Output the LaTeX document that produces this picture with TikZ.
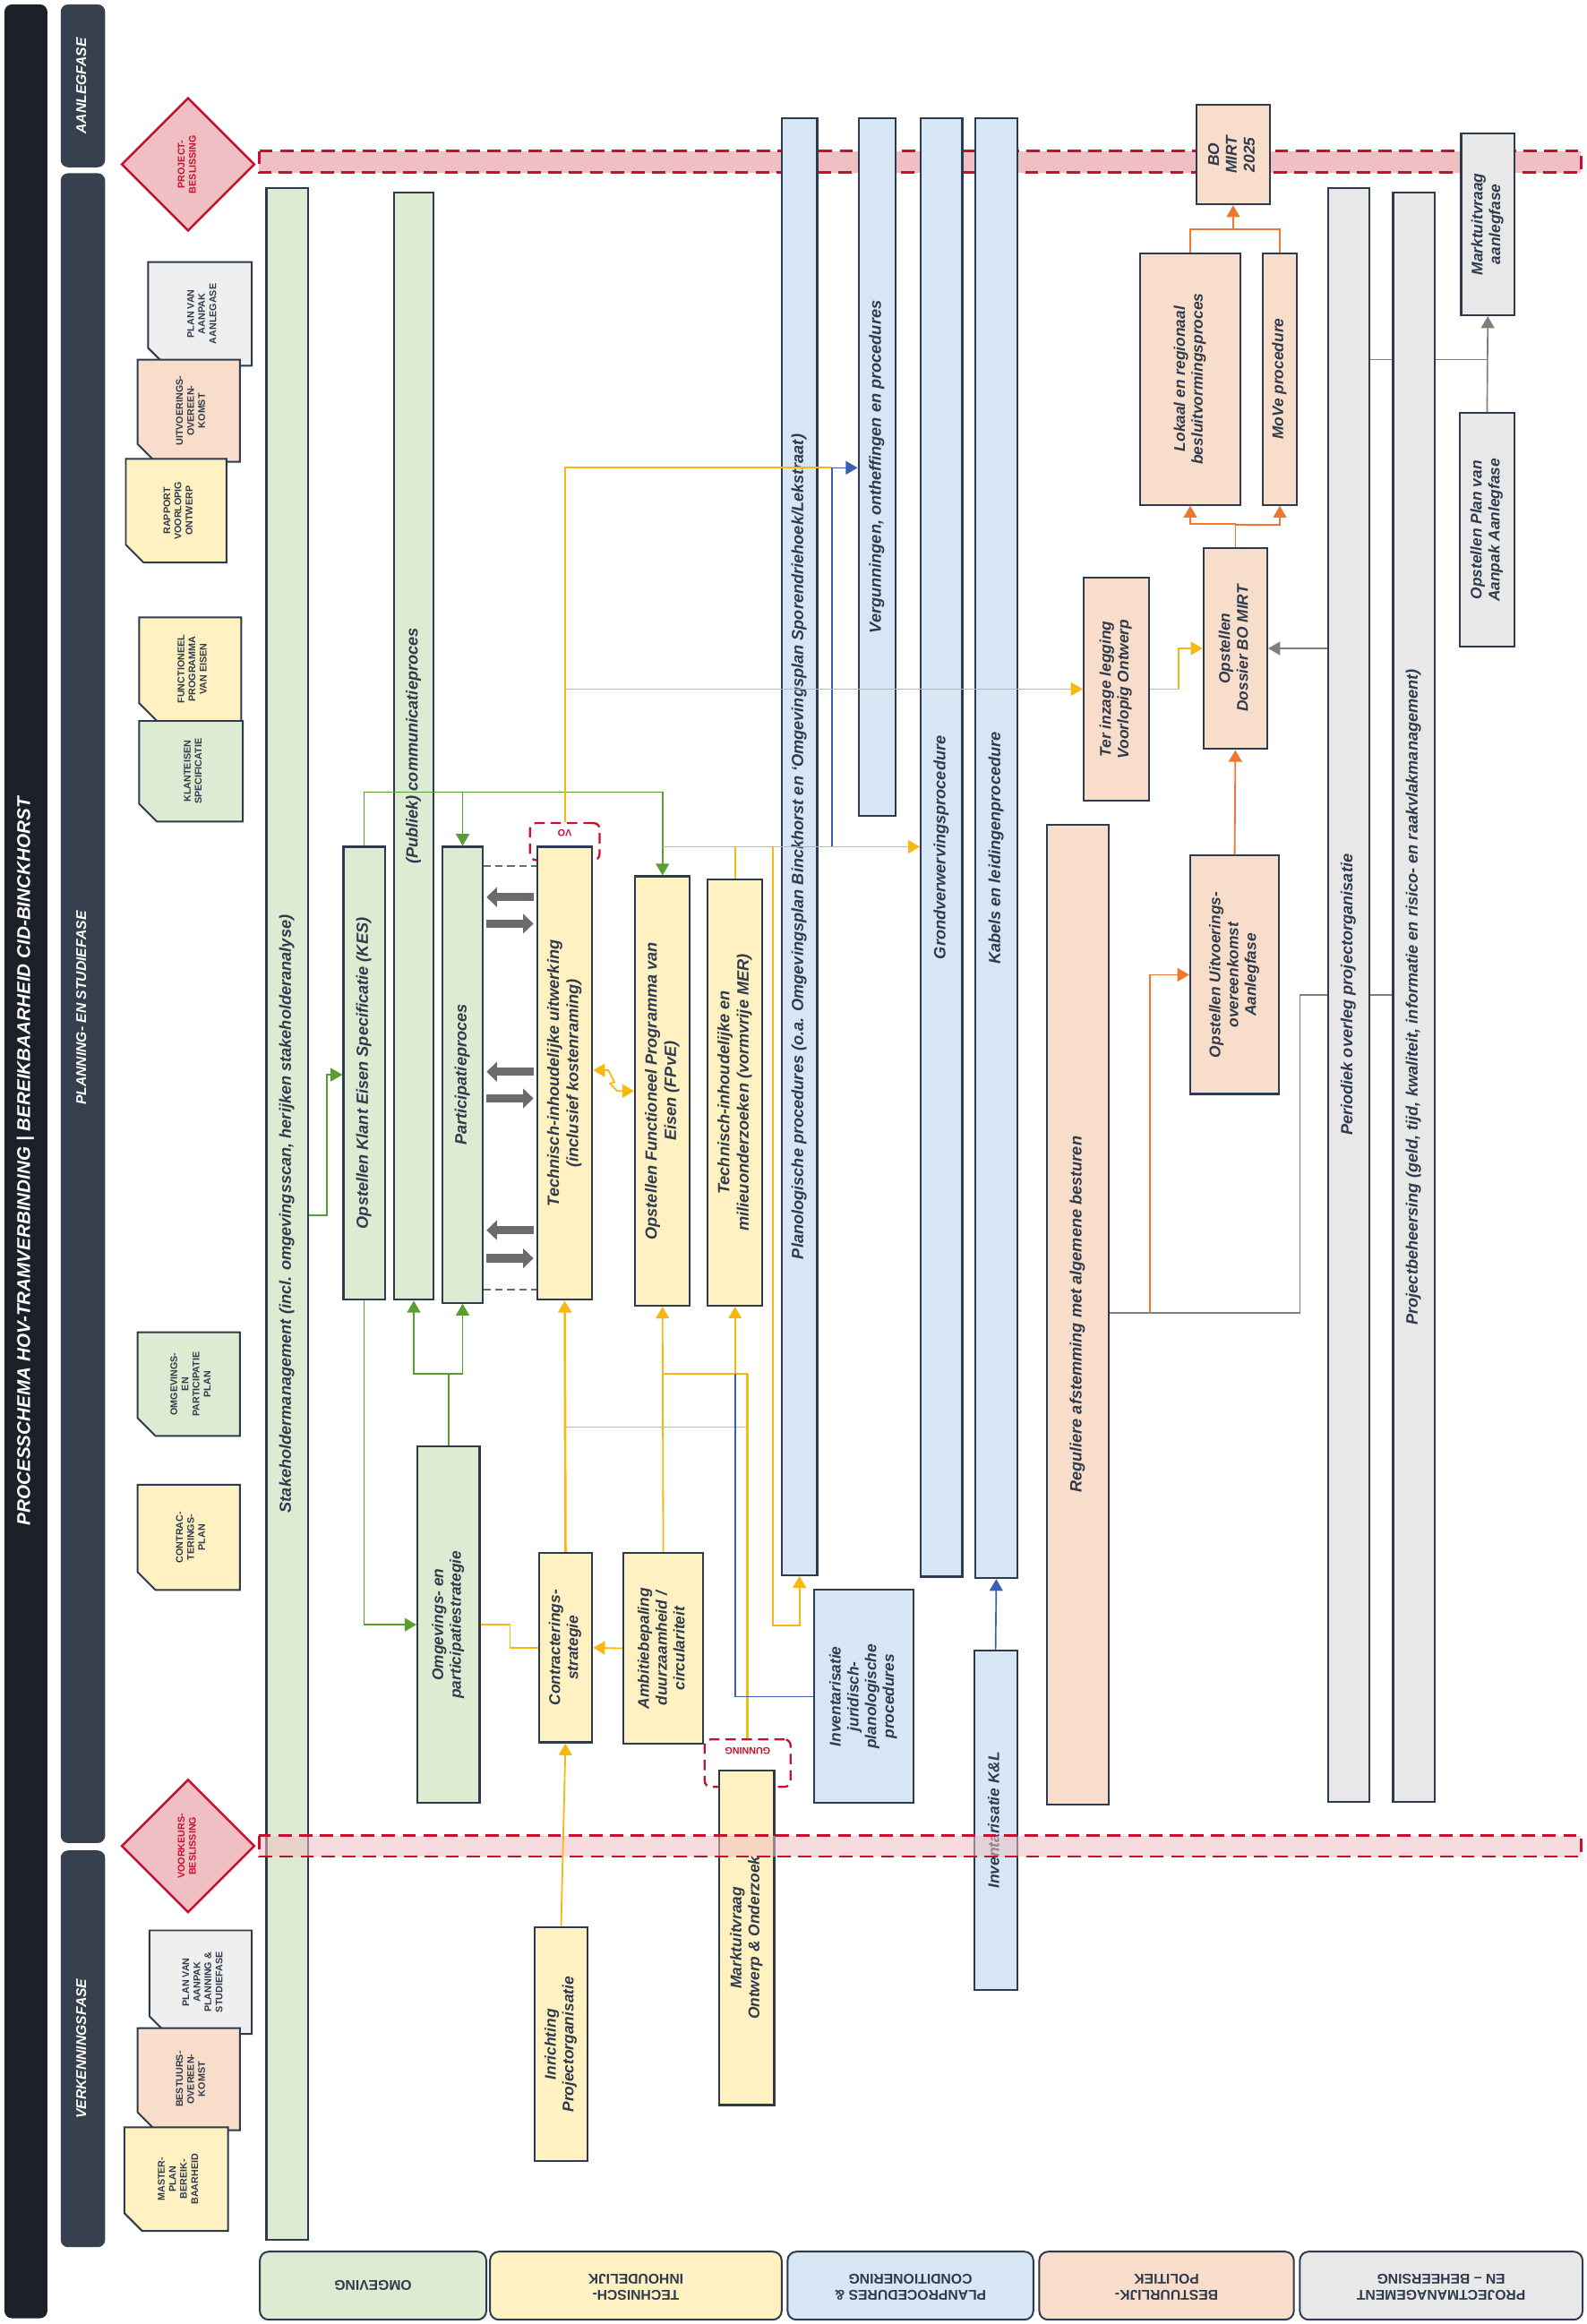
\documentclass[tikz,border=0pt]{standalone}
\usepackage{fontspec}
\setmainfont{Liberation Sans}
\setsansfont{Liberation Sans}
\usetikzlibrary{arrows.meta,shapes.geometric,calc}
\definecolor{cg}{HTML}{DCEBD1}
\definecolor{cy}{HTML}{FFF1C1}
\definecolor{cb}{HTML}{D6E6F5}
\definecolor{cp}{HTML}{F9DDCB}
\definecolor{cgr}{HTML}{E8E8E8}
\definecolor{cdg}{HTML}{EFEFEF}
\definecolor{edge}{HTML}{2E3A4D}
\definecolor{txt}{HTML}{2F3B4C}
\definecolor{cph}{HTML}{36404F}
\definecolor{cdark}{HTML}{1B2029}
\definecolor{lgreen}{HTML}{5A9E32}
\definecolor{lyel}{HTML}{F8B814}
\definecolor{lblue}{HTML}{3A5FB0}
\definecolor{lor}{HTML}{EE7830}
\definecolor{lgray}{HTML}{7F7F7F}
\definecolor{tgray}{HTML}{6B6B6B}
\definecolor{cred}{HTML}{C8102E}
\definecolor{cband}{HTML}{EFBFC3}
\newcommand\rt[1]{\rotatebox{90}{\begin{tabular}{@{}c@{}}#1\end{tabular}}}
\newcommand\bx[8][]{\node[box,fill=#7,minimum width={(#4-#2)*1pt},minimum height={(#5-#3)*1pt},#1] (#6) at ({(#2+#4)/2},{(#3+#5)/2}) {\rt{#8}};}
\newcommand\docu[7]{\path[docst,fill=#6] (#1,#2) -- (#3,#2) -- (#3,#4) -- ({#1+12},#4) -- (#1,{#4-12}) -- cycle;
 \node[doctext] (#5) at ({(#1+#3)/2+2},{(#2+#4)/2}) {\rt{#7}};}
\begin{document}
\begin{tikzpicture}[x=1pt,y=-1pt,
 box/.style={rectangle,draw=edge,line width=1.3pt,inner sep=0pt,text=txt,font=\bfseries\itshape\fontsize{10.5}{12}\selectfont},
 big/.style={font=\bfseries\itshape\fontsize{11}{13}\selectfont},
 phase/.style={draw=none,rounded corners=5pt,text=white,font=\bfseries\itshape\fontsize{9.5}{11}\selectfont},
 docst/.style={draw=edge,line width=1.2pt},
 doctext/.style={inner sep=0pt,text=txt,font=\bfseries\fontsize{6.5}{7.5}\selectfont},
 dia/.style={diamond,shape aspect=1,draw=cred,fill=cband,line width=1.5pt,minimum width=90pt,minimum height=90pt,inner sep=0pt,text=cred,font=\bfseries\fontsize{6.5}{7.5}\selectfont},
 band/.style={draw=cred,fill=cband,line width=1.6pt,dash pattern=on 9pt off 5pt},
 hdr/.style={rectangle,rounded corners=6pt,draw=edge,line width=1.2pt,minimum height=46pt,inner sep=0pt,text=txt,font=\bfseries\fontsize{9.5}{11}\selectfont,align=center},
 markbox/.style={rectangle,rounded corners=4pt,draw=cred,line width=1.4pt,dash pattern=on 7pt off 4pt,inner sep=0pt},
 marktext/.style={inner sep=0pt,text=cred,font=\bfseries\fontsize{6.5}{7}\selectfont},
 >={Triangle[length=8pt,width=9pt]},
 gl/.style={draw=lgreen,line width=1pt},
 yl/.style={draw=lyel,line width=1.1pt},
 bl/.style={draw=lblue,line width=1pt},
 ol/.style={draw=lor,line width=1.1pt},
 grl/.style={draw=lgray,line width=1pt},
 tr/.style={draw=tgray,line width=5.5pt,-{Triangle[length=7pt,width=13pt]},shorten <=2pt,shorten >=2pt},
 dl/.style={draw=tgray,line width=1.2pt,dash pattern=on 5pt off 3pt}]
\useasboundingbox (0,0) rectangle (1072,1569.9);
\fill[white] (0,0) rectangle (1072,1569.9);
% title and phases
\bx[phase,font=\bfseries\itshape\fontsize{12.5}{14}\selectfont]{3}{3}{32}{1566}{title}{cdark}{PROCESSCHEMA HOV-TRAMVERBINDING | BEREIKBAARHEID CID-BINCKHORST}
\bx[phase]{41}{3}{71}{113}{ph1}{cph}{AANLEGFASE}
\bx[phase]{41}{117}{71}{1245}{ph2}{cph}{PLANNING- EN STUDIEFASE}
\bx[phase]{41}{1250}{71}{1518}{ph3}{cph}{VERKENNINGSFASE}
% top band
\path[band] (175,102) rectangle (1068,116.6);
\node[dia] (pb) at (127,111) {\rt{PROJECT-\\BESLISSING}};
\node[dia] (vb) at (127,1247) {\rt{VOORKEURS-\\BESLISSING}};
% documents
\docu{100}{177}{170}{247}{d1}{cdg}{PLAN VAN\\AANPAK\\AANLEGASE}
\docu{93}{243}{162}{312}{d2}{cp}{UITVOERINGS-\\OVEREEN-\\KOMST}
\docu{85}{310}{153}{380}{d3}{cy}{RAPPORT\\VOORLOPIG\\ONTWERP}
\docu{94}{417}{163}{487}{d4}{cy}{FUNCTIONEEL\\PROGRAMMA\\VAN EISEN}
\docu{94}{487}{164}{555}{d5}{cg}{KLANTEISEN\\SPECIFICATIE}
\docu{93}{900}{162}{970}{d6}{cg}{OMGEVINGS-\\EN\\PARTICIPATIE\\PLAN}
\docu{93}{1003}{162}{1074}{d7}{cy}{CONTRAC-\\TERINGS-\\PLAN}
\docu{101}{1304}{170}{1374}{d8}{cdg}{PLAN VAN\\AANPAK\\PLANNING \&\\STUDIEFASE}
\docu{93}{1370}{162}{1439}{d9}{cp}{BESTUURS-\\OVEREEN-\\KOMST}
\docu{84}{1437}{154}{1507}{d10}{cy}{MASTER-\\PLAN\\BEREIK-\\BAARHEID}
% omgeving
\bx[big]{180}{127}{208}{1513}{stake}{cg}{Stakeholdermanagement (incl. omgevingsscan, herijken stakeholderanalyse)}
\bx[big]{266}{130}{293}{878}{pub}{cg}{(Publiek) communicatieproces}
\bx[big]{232}{572}{260}{878}{kes}{cg}{Opstellen Klant Eisen Specificatie (KES)}
\bx[big]{299}{572}{326}{880}{part}{cg}{Participatieproces}
\bx{282}{977}{324}{1218}{omg}{cg}{Omgevings- en\\participatiestrategie}
% technisch
\node[markbox,minimum width=47pt,minimum height=25pt] (vo) at (381.5,568.5) {};
\node[marktext] (vot) at (381.5,563) {\rotatebox{180}{VO}};
\bx[big]{363}{572}{400}{878}{tech}{cy}{Technisch-inhoudelijke uitwerking\\(inclusief kostenraming)}
\bx[big]{429}{592}{466}{882}{fpve}{cy}{Opstellen Functioneel Programma van\\Eisen (FPvE)}
\bx[big]{478}{594}{515}{882}{mer}{cy}{Technisch-inhoudelijke en\\milieuonderzoeken (vormvrije MER)}
\bx{364}{1049}{400}{1177}{contr}{cy}{Contracterings-\\strategie}
\bx{421}{1049}{475}{1178}{amb}{cy}{Ambitiebepaling\\duurzaamheid /\\circulariteit}
\bx{361}{1302}{397}{1460}{inr}{cy}{Inrichting\\Projectorganisatie}
\node[markbox,minimum width=58pt,minimum height=32pt] (gun) at (505,1191) {};
\node[marktext] (gunt) at (505,1183) {\rotatebox{180}{GUNNING}};
\bx{486}{1196}{523}{1422}{mo}{cy}{Marktuitvraag\\Ontwerp \& Onderzoek}
% planprocedures
\bx[big]{528}{80}{552}{1064}{plan}{cb}{Planologische procedures (o.a. Omgevingsplan Binckhorst en ‘Omgevingsplan Sporendriehoek/Lekstraat)}
\bx[big]{580}{80}{605}{551}{verg}{cb}{Vergunningen, ontheffingen en procedures}
\bx[big]{622}{80}{650}{1065}{grond}{cb}{Grondverwervingsprocedure}
\bx[big]{659}{80}{687}{1066}{kabel}{cb}{Kabels en leidingenprocedure}
\bx{550}{1074}{617}{1218}{inv}{cb}{Inventarisatie\\juridisch-\\planologische\\procedures}
\bx{658}{1115}{687}{1344}{invkl}{cb}{Inventarisatie K\&L}
% bestuurlijk
\bx{732}{390}{776}{541}{ter}{cp}{Ter inzage legging\\Voorlopig Ontwerp}
\bx[big]{707}{557}{749}{1219}{reg}{cp}{Reguliere afstemming met algemene besturen}
\bx{808}{71}{858}{138}{bo}{cp}{BO\\MIRT\\2025}
\bx{770}{171}{838}{341}{lok}{cp}{Lokaal en regionaal\\besluitvormingsproces}
\bx{853}{171}{876}{341}{move}{cp}{MoVe procedure}
\bx{813}{370}{856}{506}{dos}{cp}{Opstellen\\Dossier BO MIRT}
\bx{804}{578}{864}{739}{uitv}{cp}{Opstellen Uitvoerings-\\overeenkomst\\Aanlegfase}
% projectmanagement
\bx[big]{897}{127}{925}{1217}{peri}{cgr}{Periodiek overleg projectorganisatie}
\bx[big]{941}{130}{969}{1217}{proj}{cgr}{Projectbeheersing (geld, tijd, kwaliteit, informatie en risico- en raakvlakmanagement)}
\bx{987}{90}{1023}{213}{markt}{cgr}{Marktuitvraag\\aanlegfase}
\bx{986}{279}{1023}{437}{pva}{cgr}{Opstellen Plan van\\Aanpak Aanlegfase}
% bottom band
\path[band,fill opacity=0.55] (175,1240) rectangle (1068,1254);
% lane headers
\node[hdr,fill=cg,minimum width=153pt] (h1) at (252,1544) {\rotatebox{180}{OMGEVING}};
\node[hdr,fill=cy,minimum width=197pt] (h2) at (429.5,1544) {\rotatebox{180}{\begin{tabular}{@{}c@{}}TECHNISCH-\\INHOUDELIJK\end{tabular}}};
\node[hdr,fill=cb,minimum width=166pt] (h3) at (615,1544) {\rotatebox{180}{\begin{tabular}{@{}c@{}}PLANPROCEDURES \&\\CONDITIONERING\end{tabular}}};
\node[hdr,fill=cp,minimum width=172pt] (h4) at (788,1544) {\rotatebox{180}{\begin{tabular}{@{}c@{}}BESTUURLIJK-\\POLITIEK\end{tabular}}};
\node[hdr,fill=cgr,minimum width=191pt] (h5) at (973.5,1544) {\rotatebox{180}{\begin{tabular}{@{}c@{}}PROJECTMANAGEMENT\\EN – BEHEERSING\end{tabular}}};
% green connectors
\draw[gl,->] (kes.north) |- (fpve.north |- 0,535) -- (fpve.north);
\draw[gl,->] (part.north |- 0,535) -- (part.north);
\draw[gl,->] (stake.east |- 0,821) -| (221,726) -- (kes.west |- 0,726);
\draw[gl,->] (kes.south) |- (omg.west);
\draw[gl,->] (omg.north) |- (pub.south |- 0,928) -- (pub.south);
\draw[gl,->] (omg.north |- 0,928) -| (part.south);
% transfer arrows
\foreach \ya/\yb in {606/624,724/742,831/850}{
 \draw[tr] (tech.west |- 0,\ya) -- (part.east |- 0,\ya);
 \draw[tr] (part.east |- 0,\yb) -- (tech.west |- 0,\yb);}
\draw[dl] (part.east |- 0,585) -- (tech.west |- 0,585);
\draw[dl] (part.east |- 0,871) -- (tech.west |- 0,871);
% yellow connectors
\draw[yl] (vo.north) |- (562,316);
\draw[bl,->] (562,316) -- (verg.west |- 0,316);
\draw[bl] (562,316) -- (562,572);
\draw[yl,->] (vo.north |- ter.west) -- (ter.west);
\draw[yl,->] (ter.east) -| (796,438) -- (dos.west);
\draw[yl,->] (fpve.north |- 0,572) -- (grond.west |- 0,572);
\draw[yl] (mer.north) -- (mer.north |- 0,572);
\draw[yl,->] (522,572) |- (540,1098) -- (plan.south);
\draw[yl,<->] (tech.east |- 0,723) -- (411,723) -- (415,731) -- (412,732) -- (417,737) -- (fpve.west |- 0,737);
\draw[yl] (omg.east) -| (344.5,1113) -- (contr.west);
\draw[yl,->] (amb.west) -- (contr.east);
\draw[yl,->,line width=1.6pt] (contr.north) -- (tech.south);
\draw[yl,->] (inr.north) -- (contr.south);
\draw[yl,->] (amb.north) -- (fpve.south);
\draw[yl] (contr.north |- 0,964) -- (505,964);
\draw[yl] (amb.north |- 0,928) -- (505,928);
\draw[yl,line width=1.6pt] (gun.north) -- (gun.north |- 0,928);
\draw[yl,->] (mer.south |- 0,928) -- (mer.south);
\draw[bl] (inv.west) -| (mer.south |- 0,928);
\draw[bl,->] (invkl.north) -- (kabel.south);
% orange connectors
\draw[ol,->] (dos.north) -- ++(0,-15.5) -| (lok.south);
\draw[ol,->] (dos.north |- 0,354.5) -| (move.south);
\draw[ol] (lok.north) |- (move.north |- 0,155) -- (move.north);
\draw[ol,->] (bo.south |- 0,155) -- (bo.south);
\draw[ol,->] (uitv.north) -- (dos.south);
\draw[grl] (reg.east |- 0,887) -- (878,887) |- (peri.west |- 0,672);
\draw[ol,->] (777,887) |- (uitv.west);
\draw[grl] (peri.east |- 0,672) -- (proj.west |- 0,672);
\draw[grl,->] (peri.west |- dos.east) -- (dos.east);
\draw[grl] (peri.east |- 0,243) -- (proj.west |- 0,243);
\draw[grl] (proj.east |- 0,243) -- (pva.north |- 0,243);
\draw[grl,->] (pva.north) -- (markt.south);
\end{tikzpicture}
\end{document}
